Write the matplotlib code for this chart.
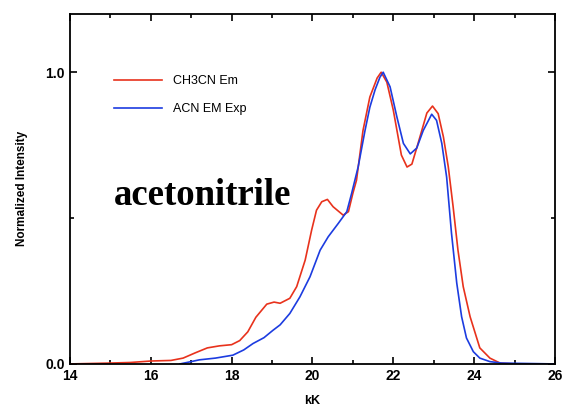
import matplotlib
matplotlib.use("Agg")
import matplotlib.pyplot as plt
from matplotlib.ticker import MultipleLocator

# CH3CN emission (red)
red_x = [14.0, 15.0, 15.5, 16.0, 16.5, 16.8, 17.1, 17.4, 17.7, 18.0, 18.2, 18.4, 18.6,
         18.87, 19.05, 19.2, 19.44, 19.61, 19.82, 19.98, 20.1, 20.23, 20.37, 20.51,
         20.76, 20.89, 21.0, 21.09, 21.25, 21.42, 21.6, 21.7, 21.84, 22.0, 22.2,
         22.34, 22.46, 22.6, 22.83, 22.97, 23.11, 23.24, 23.36, 23.48, 23.6, 23.73,
         23.9, 24.14, 24.39, 24.64, 25.0, 26.0]
red_y = [0.0, 0.003, 0.005, 0.01, 0.012, 0.02, 0.038, 0.055, 0.062, 0.066, 0.08, 0.11,
         0.16, 0.205, 0.212, 0.208, 0.225, 0.265, 0.356, 0.459, 0.527, 0.556, 0.564,
         0.539, 0.51, 0.522, 0.585, 0.63, 0.8, 0.915, 0.98, 1.0, 0.966, 0.87, 0.716,
         0.675, 0.685, 0.75, 0.86, 0.884, 0.858, 0.778, 0.676, 0.539, 0.39, 0.265,
         0.162, 0.055, 0.02, 0.003, 0.0, 0.0]

# ACN emission experiment (blue)
blue_x = [16.72, 17.0, 17.2, 17.6, 18.03, 18.3, 18.53, 18.8, 19.02, 19.2, 19.44, 19.69,
          19.94, 20.19, 20.39, 20.64, 20.85, 20.97, 21.05, 21.13, 21.3, 21.42, 21.55,
          21.67, 21.75, 21.92, 22.09, 22.25, 22.42, 22.58, 22.74, 22.95, 23.07, 23.2,
          23.32, 23.44, 23.57, 23.69, 23.81, 23.98, 24.14, 24.39, 24.68, 26.0]
blue_y = [0.0, 0.008, 0.014, 0.02, 0.03, 0.048, 0.07, 0.09, 0.115, 0.134, 0.173, 0.23,
          0.299, 0.39, 0.436, 0.482, 0.522, 0.585, 0.63, 0.675, 0.8, 0.88, 0.94, 0.983,
          1.0, 0.95, 0.846, 0.756, 0.72, 0.74, 0.8, 0.856, 0.835, 0.756, 0.64, 0.448,
          0.277, 0.162, 0.089, 0.042, 0.02, 0.008, 0.003, 0.0]

RED = "#e8321c"
BLUE = "#1c3ce0"

plt.rcParams["font.family"] = ["Liberation Sans", "DejaVu Sans"]

fig = plt.figure(figsize=(5.64, 4.08), dpi=100)
ax = fig.add_axes([0.124, 0.108, 0.86, 0.858])

ax.plot(red_x, red_y, color=RED, lw=1.2, label="CH3CN Em")
ax.plot(blue_x, blue_y, color=BLUE, lw=1.2, label="ACN EM Exp")

ax.set_xlim(14, 26)
ax.set_ylim(0, 1.2)
ax.xaxis.set_major_locator(MultipleLocator(2))
ax.xaxis.set_minor_locator(MultipleLocator(1))
ax.set_yticks([0.0, 1.0])
ax.set_yticklabels(["0.0", "1.0"])
ax.yaxis.set_minor_locator(MultipleLocator(0.5))
ax.tick_params(which="both", direction="in", top=True, right=True, width=1.2)
ax.tick_params(which="major", length=5, labelsize=10)
ax.tick_params(which="minor", length=3)
for lab in ax.get_xticklabels() + ax.get_yticklabels():
    lab.set_fontweight("bold")
for sp in ax.spines.values():
    sp.set_linewidth(1.3)

ax.set_xlabel("kK", fontsize=9, fontweight="bold", labelpad=9)
ax.set_ylabel("Normalized Intensity", fontsize=8.5, fontweight="bold", labelpad=13)

ax.legend(loc="upper left", bbox_to_anchor=(0.091, 0.825), frameon=False, fontsize=9,
          handlelength=3.8, handletextpad=0.9, labelspacing=1.3, borderpad=0,
          borderaxespad=0)

ax.text(15.09, 0.545, "acetonitrile", fontsize=26.5, fontweight="bold",
        family=["Liberation Serif", "DejaVu Serif"])

fig.savefig("out.png", dpi=100, facecolor="white")
